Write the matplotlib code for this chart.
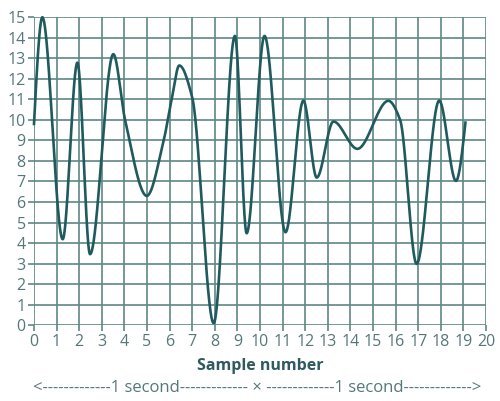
#!/usr/bin/env python3
import numpy as np
import matplotlib
matplotlib.use("Agg")
from matplotlib import pyplot as plt

# points (sample number, value)
wave_x = [0.0, 0.37, 1.27, 1.92, 2.48, 3.51, 4.03, 4.99, 5.72, 6.09, 6.43, 7.0,
          7.95, 8.89, 9.41, 10.2, 11.13, 11.92, 12.51, 13.25, 14.31, 15.68,
          16.2, 16.93, 17.93, 18.67, 19.09]
wave_y = [9.8, 15.0, 4.19, 12.79, 3.46, 13.2, 10.0, 6.3, 8.9, 11.0, 12.65, 11.1,
          0.1, 14.09, 4.48, 14.09, 4.53, 10.94, 7.19, 9.92, 8.59, 10.93,
          10.0, 2.99, 10.94, 7.03, 9.87]
x_ticks = list(range(0, 21))
y_ticks = list(range(0, 16))
axis_label = "Sample number"
footer = "<-------------1 second------------- \u00d7 -------------1 second------------->"

line_col = "#1f5a5e"
grid_col = "#5d8884"
text_col = "#557779"


def pchip(xs, ys, xnew):
    # monotone cubic hermite, so the curve stays flat at the peaks
    xs = np.asarray(xs, float)
    ys = np.asarray(ys, float)
    h = np.diff(xs)
    d = np.diff(ys) / h
    m = np.zeros_like(ys)
    for k in range(1, len(xs) - 1):
        if d[k - 1] * d[k] > 0:
            w1 = 2 * h[k] + h[k - 1]
            w2 = h[k] + 2 * h[k - 1]
            m[k] = (w1 + w2) / (w1 / d[k - 1] + w2 / d[k])
    m[0] = d[0] * 1.5
    m[-1] = d[-1] * 1.5
    idx = np.clip(np.searchsorted(xs, xnew) - 1, 0, len(xs) - 2)
    t = (xnew - xs[idx]) / h[idx]
    h00 = 2 * t**3 - 3 * t**2 + 1
    h10 = t**3 - 2 * t**2 + t
    h01 = -2 * t**3 + 3 * t**2
    h11 = t**3 - t**2
    return h00 * ys[idx] + h10 * h[idx] * m[idx] + h01 * ys[idx + 1] + h11 * h[idx] * m[idx + 1]


plt.rcParams['font.family'] = ['Open Sans', 'DejaVu Sans']
fig = plt.figure(figsize=(5.0, 4.01), dpi=100)
ax = fig.add_axes([0.068, 0.189, 0.904, 0.768])

xx = np.linspace(wave_x[0], wave_x[-1], 1500)
ax.plot(xx, pchip(wave_x, wave_y, xx), color=line_col, lw=1.9, zorder=3, clip_on=False)

ax.set_xlim(0, 20)
ax.set_ylim(0, 15)
ax.set_xticks(x_ticks)
ax.set_yticks(y_ticks)
ax.grid(True, color=grid_col, lw=1.2)
ax.set_axisbelow(True)
for s in ax.spines.values():
    s.set_visible(False)
ax.tick_params(colors=grid_col, labelcolor=text_col, labelsize=11.5, length=4, width=1.2, pad=2)

ax.set_xlabel(axis_label, fontsize=11.5, fontweight='bold', color="#2f5b60", labelpad=6)
fig.text(0.514, 0.032, footer, ha='center', va='center', fontsize=12, color=text_col)

fig.savefig("out.png", dpi=100)
